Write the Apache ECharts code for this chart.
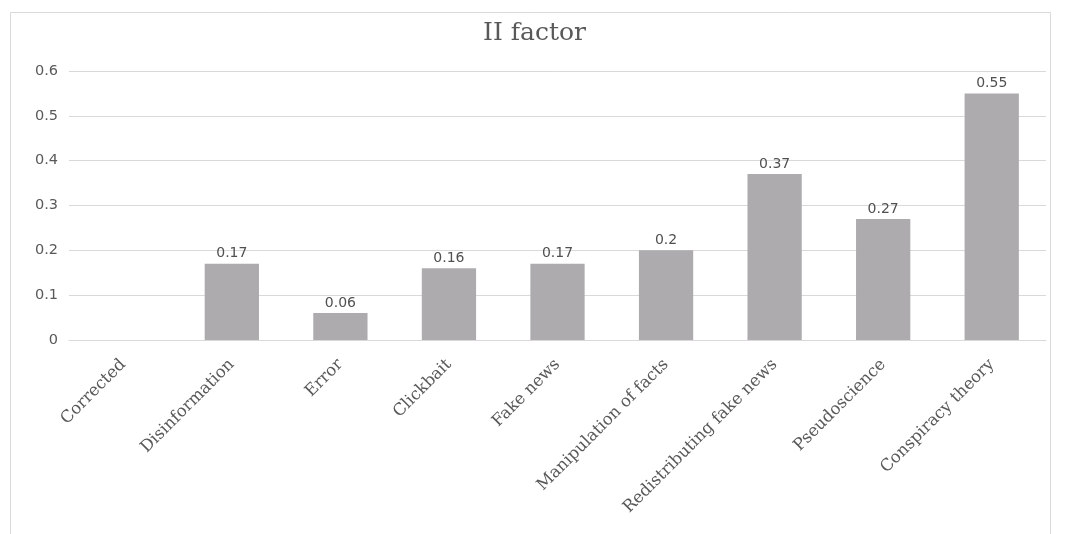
<!DOCTYPE html>
<html>
<head>
<meta charset="utf-8">
<script src="https://cdn.jsdelivr.net/npm/echarts@6/dist/echarts.min.js"></script>
<style>
  html, body { margin: 0; padding: 0; background: #fff; }
  #chart { width: 1069px; height: 534px; }
</style>
</head>
<body>
<div id="chart"></div>
<script>
// Categories and values for the "II factor" chart
const categories = [
  'Corrected', 'Disinformation', 'Error', 'Clickbait', 'Fake news',
  'Manipulation of facts', 'Redistributing fake news', 'Pseudoscience', 'Conspiracy theory'
];
const values = [0, 0.17, 0.06, 0.16, 0.17, 0.2, 0.37, 0.27, 0.55];
const yTicks = [0, 0.1, 0.2, 0.3, 0.4, 0.5, 0.6];

const chart = echarts.init(document.getElementById('chart'));
chart.setOption({
  animation: false,
  backgroundColor: '#fff',
  graphic: [{
    type: 'rect',
    shape: { x: 10.5, y: 12.5, width: 1040, height: 540 },
    style: { fill: 'none', stroke: '#d9d9d9', lineWidth: 1 },
    silent: true,
    z: -1
  }],
  title: {
    text: 'II factor',
    left: 'center',
    top: 16,
    textStyle: {
      fontFamily: 'DejaVu Serif',
      fontWeight: 'normal',
      fontSize: 25,
      color: '#595959'
    }
  },
  grid: { left: 69, right: 23, top: 71, bottom: 194 },
  xAxis: {
    type: 'category',
    data: categories,
    axisTick: { show: false },
    axisLine: { lineStyle: { color: '#d9d9d9', width: 1 } },
    axisLabel: {
      rotate: 45,
      interval: 0,
      margin: 22,
      fontFamily: 'DejaVu Serif',
      fontSize: 16.5,
      color: '#595959'
    }
  },
  yAxis: {
    type: 'value',
    min: 0,
    max: 0.6,
    interval: 0.1,
    axisLine: { show: false },
    axisTick: { show: false },
    splitLine: { lineStyle: { color: '#d9d9d9', width: 1 } },
    axisLabel: {
      margin: 11,
      fontFamily: 'DejaVu Sans',
      fontSize: 14.5,
      color: '#595959',
      formatter: v => {
        const t = yTicks.find(x => Math.abs(x - v) < 1e-9);
        return t === undefined ? '' : String(t);
      }
    }
  },
  series: [{
    type: 'bar',
    data: values,
    barWidth: '50%',
    itemStyle: { color: '#adabae' },
    label: {
      show: true,
      position: 'top',
      distance: 3,
      fontFamily: 'DejaVu Sans',
      fontSize: 14,
      color: '#505050',
      formatter: p => p.value === 0 ? '' : String(p.value)
    }
  }]
});
</script>
</body>
</html>
